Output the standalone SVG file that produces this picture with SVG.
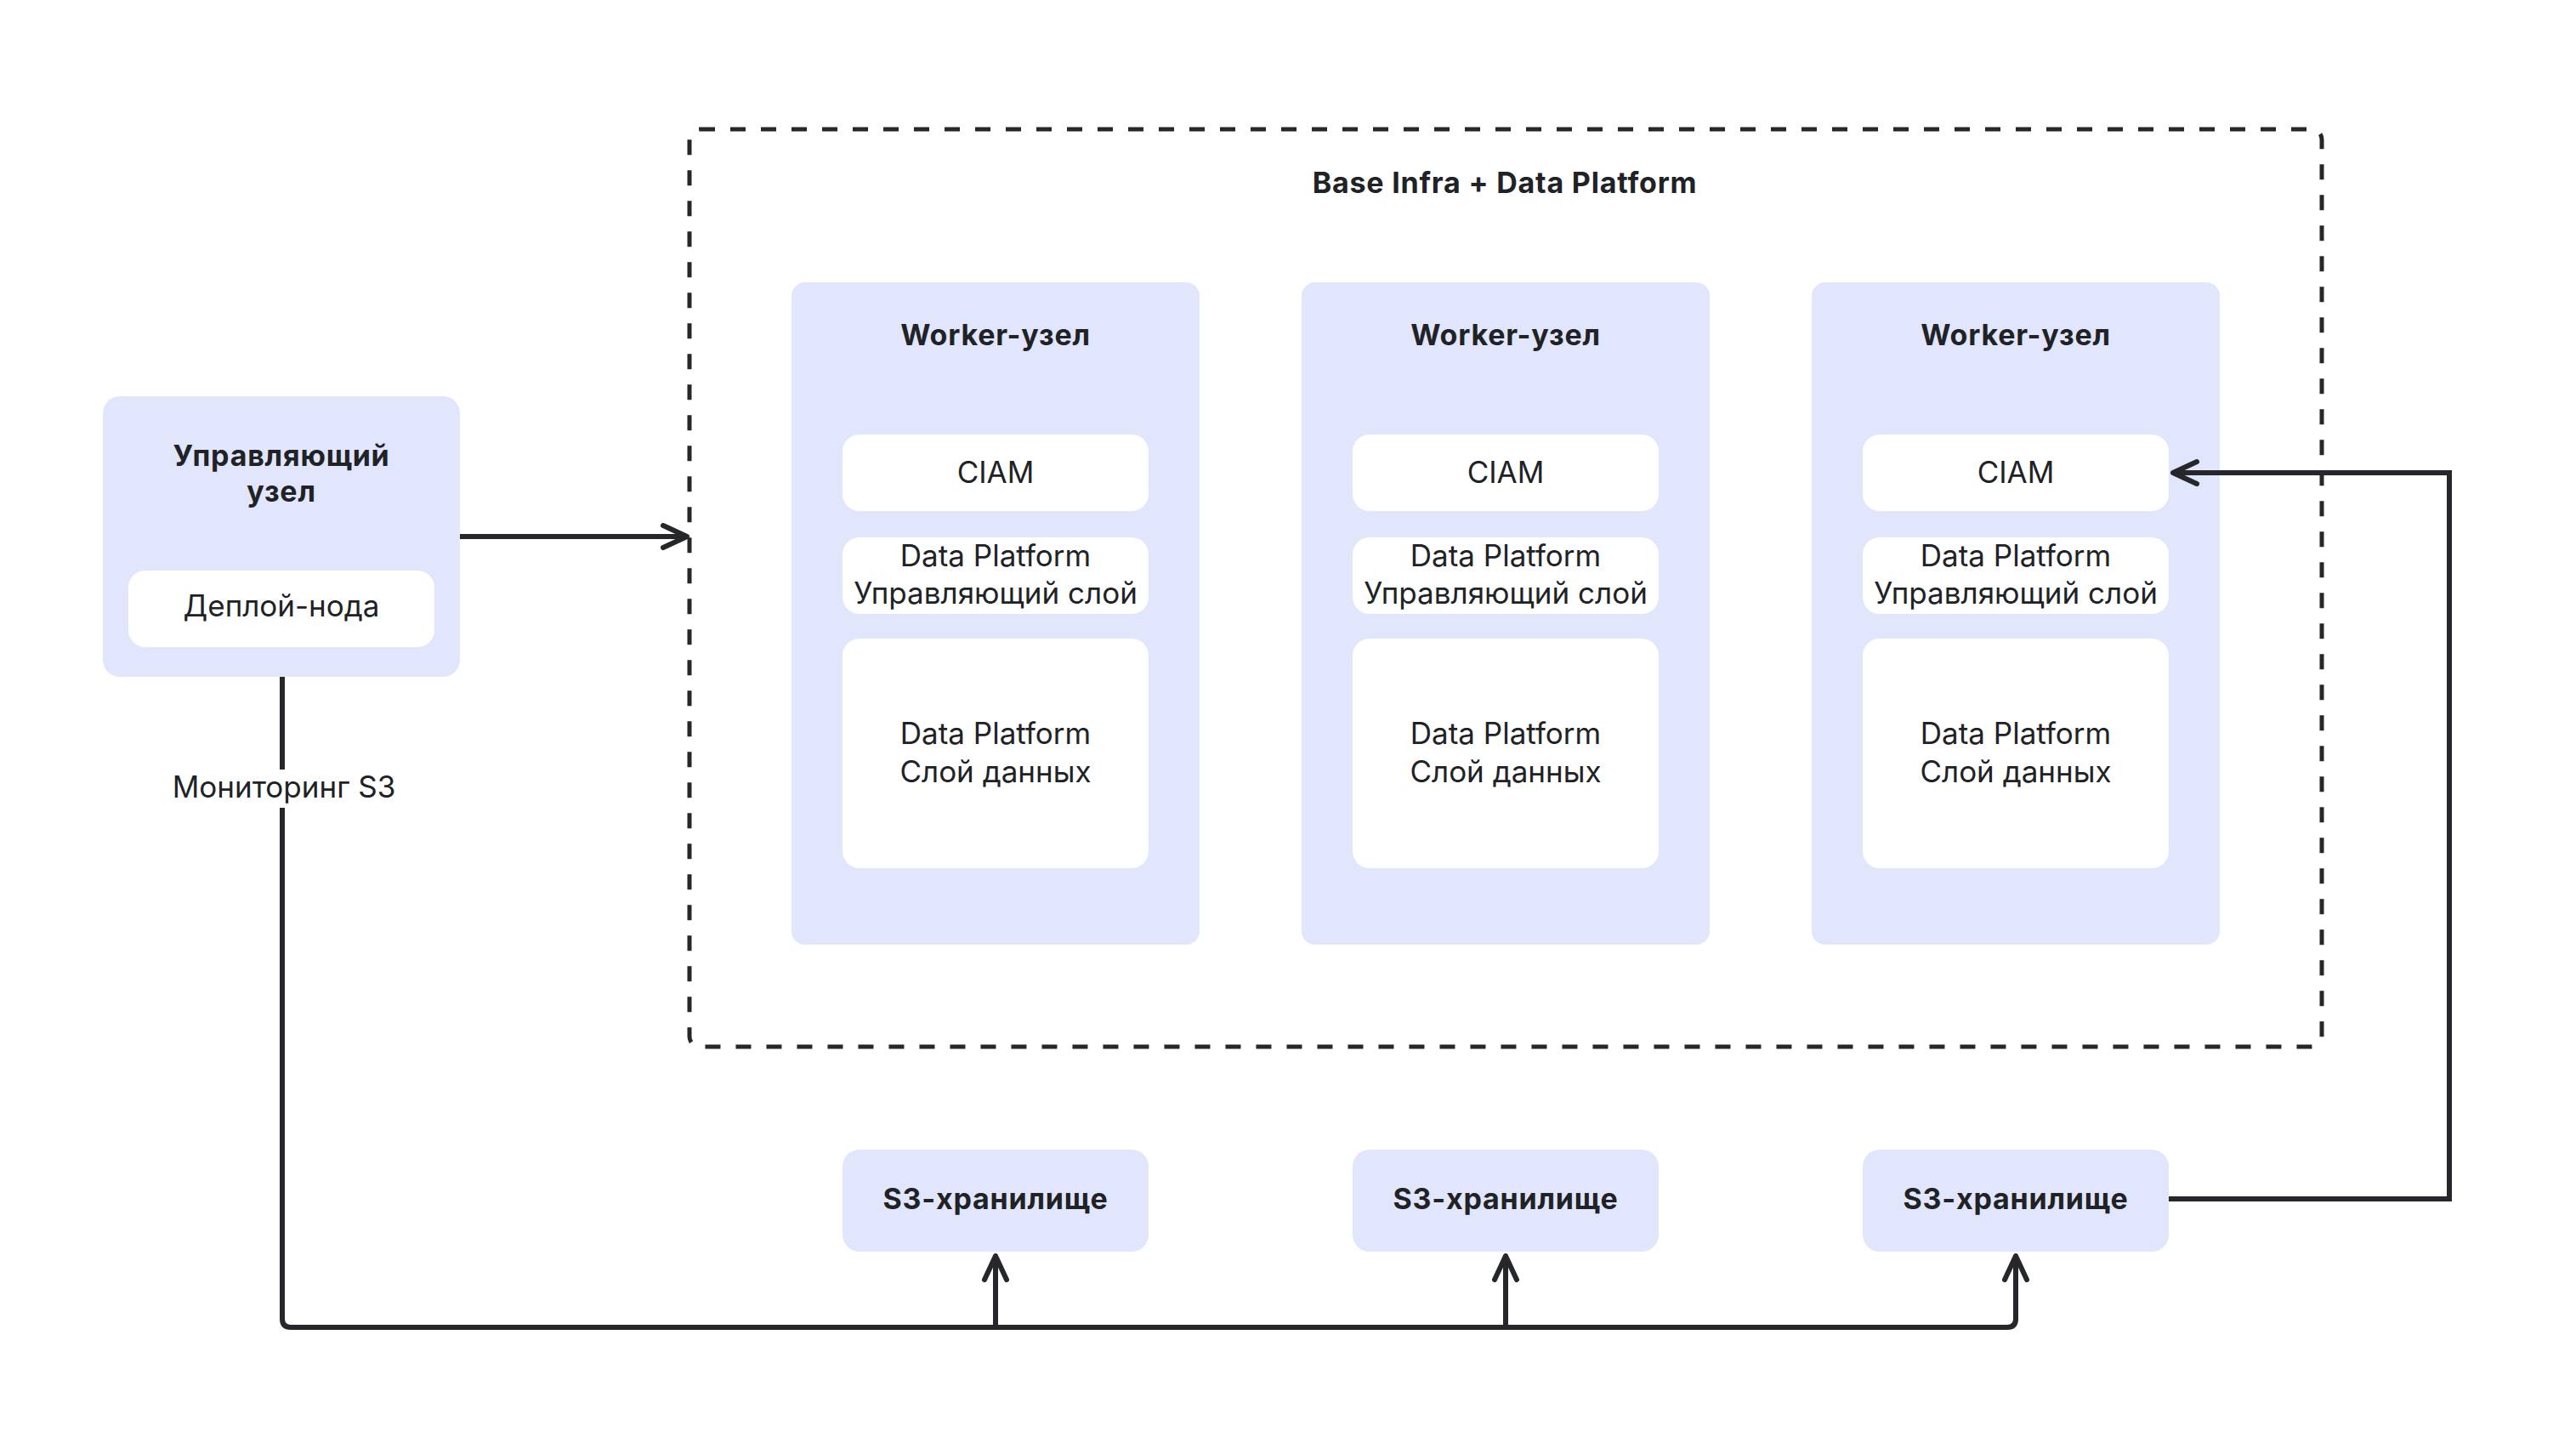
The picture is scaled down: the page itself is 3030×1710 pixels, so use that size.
<svg xmlns="http://www.w3.org/2000/svg" width="3030" height="1710" viewBox="0 0 3030 1710">
  <defs>
    <style>
      .node { fill: #E2E6FC; }
      .inner { fill: #FFFFFF; }
      .t { font-family: Inter, "Liberation Sans", "DejaVu Sans", sans-serif; font-size: 35px; fill: #212226; text-anchor: middle; }
      .b { font-family: Inter, "Liberation Sans", "DejaVu Sans", sans-serif; font-size: 34px; font-weight: 700; letter-spacing: 0.8px; fill: #212226; text-anchor: middle; }
      .line { fill: none; stroke: #26272B; stroke-width: 6; }
      .dash { fill: none; stroke: #26272B; stroke-width: 5; stroke-dasharray: 18 18; }
    </style>
    <marker id="arr" markerUnits="userSpaceOnUse" markerWidth="40" markerHeight="40" viewBox="-36 -20 40 40" refX="0" refY="0" orient="auto" overflow="visible">
      <path d="M-28,-13 L0,0 L-28,13" fill="none" stroke="#26272B" stroke-width="6" stroke-linecap="round" stroke-linejoin="round"/>
    </marker>
  </defs>
  <rect width="3030" height="1710" fill="#FFFFFF"/>

  <g id="container">
    <rect class="dash" x="811" y="152" width="1920" height="1079" rx="12"/>
    <text class="b" x="1770" y="227">Base Infra + Data Platform</text>
  </g>

  <g id="control-node">
    <rect class="node" x="121" y="466" width="420" height="330" rx="20"/>
    <text class="b" x="331" y="548">Управляющий</text>
    <text class="b" x="331" y="590">узел</text>
    <rect class="inner" x="151" y="671" width="360" height="90" rx="20"/>
    <text class="t" x="331" y="725">Деплой-нода</text>
  </g>

  <g id="worker-1">
    <rect class="node" x="931" y="332" width="480" height="779" rx="16"/>
    <text class="b" x="1171" y="406">Worker-узел</text>
    <rect class="inner" x="991" y="511" width="360" height="90" rx="20"/>
    <text class="t" x="1171" y="568">CIAM</text>
    <rect class="inner" x="991" y="632" width="360" height="90" rx="20"/>
    <text class="t" x="1171" y="666">Data Platform</text>
    <text class="t" x="1171" y="710">Управляющий слой</text>
    <rect class="inner" x="991" y="751" width="360" height="270" rx="20"/>
    <text class="t" x="1171" y="875">Data Platform</text>
    <text class="t" x="1171" y="920">Слой данных</text>
  </g>

  <g id="worker-2">
    <rect class="node" x="1531" y="332" width="480" height="779" rx="16"/>
    <text class="b" x="1771" y="406">Worker-узел</text>
    <rect class="inner" x="1591" y="511" width="360" height="90" rx="20"/>
    <text class="t" x="1771" y="568">CIAM</text>
    <rect class="inner" x="1591" y="632" width="360" height="90" rx="20"/>
    <text class="t" x="1771" y="666">Data Platform</text>
    <text class="t" x="1771" y="710">Управляющий слой</text>
    <rect class="inner" x="1591" y="751" width="360" height="270" rx="20"/>
    <text class="t" x="1771" y="875">Data Platform</text>
    <text class="t" x="1771" y="920">Слой данных</text>
  </g>

  <g id="worker-3">
    <rect class="node" x="2131" y="332" width="480" height="779" rx="16"/>
    <text class="b" x="2371" y="406">Worker-узел</text>
    <rect class="inner" x="2191" y="511" width="360" height="90" rx="20"/>
    <text class="t" x="2371" y="568">CIAM</text>
    <rect class="inner" x="2191" y="632" width="360" height="90" rx="20"/>
    <text class="t" x="2371" y="666">Data Platform</text>
    <text class="t" x="2371" y="710">Управляющий слой</text>
    <rect class="inner" x="2191" y="751" width="360" height="270" rx="20"/>
    <text class="t" x="2371" y="875">Data Platform</text>
    <text class="t" x="2371" y="920">Слой данных</text>
  </g>

  <g id="s3-1">
    <rect class="node" x="991" y="1352" width="360" height="120" rx="20"/>
    <text class="b" x="1171" y="1422">S3-хранилище</text>
  </g>
  <g id="s3-2">
    <rect class="node" x="1591" y="1352" width="360" height="120" rx="20"/>
    <text class="b" x="1771" y="1422">S3-хранилище</text>
  </g>
  <g id="s3-3">
    <rect class="node" x="2191" y="1352" width="360" height="120" rx="20"/>
    <text class="b" x="2371" y="1422">S3-хранилище</text>
  </g>

  <g id="connectors">
    <path class="line" d="M541,631 H808" marker-end="url(#arr)"/>
    <path class="line" d="M332,796 V905"/>
    <path class="line" d="M332,950 V1551 Q332,1561 342,1561 H2361 Q2371,1561 2371,1551 V1477" marker-end="url(#arr)"/>
    <path class="line" d="M1171,1561 V1477" marker-end="url(#arr)"/>
    <path class="line" d="M1771,1561 V1477" marker-end="url(#arr)"/>
    <path class="line" d="M2551,1410 H2881 V556 H2556" marker-end="url(#arr)"/>
    <text class="t" x="334" y="938">Мониторинг S3</text>
  </g>
</svg>
